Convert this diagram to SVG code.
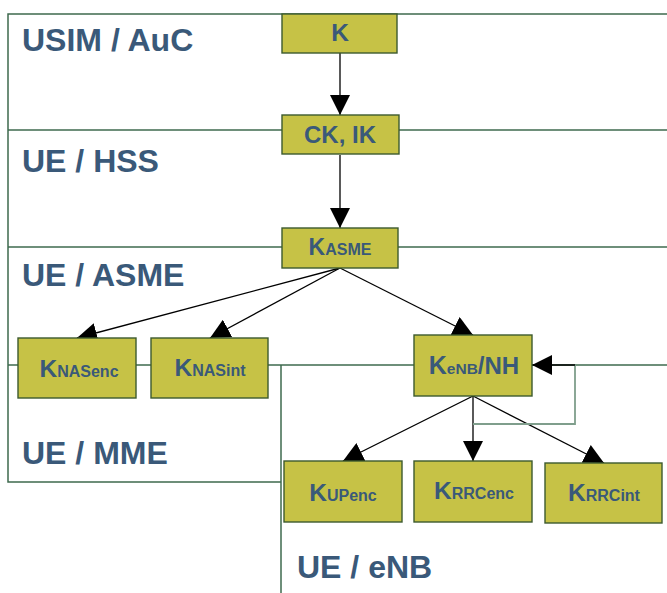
<svg xmlns="http://www.w3.org/2000/svg" width="667" height="593" viewBox="0 0 667 593">
  <defs>
    <marker id="arrow" markerUnits="userSpaceOnUse" markerWidth="20" markerHeight="20" viewBox="0 0 20 20" refX="20" refY="10" orient="auto">
      <path d="M0,0 L20,10 L0,20 Z" fill="#000"/>
    </marker>
    <style>
      .frame { fill: none; stroke: #3E6A4E; stroke-width: 1.5; }
      .region { font-family: "Liberation Sans", Arial, sans-serif; font-weight: bold; font-size: 32px; fill: #3A5979; }
      .box { fill: #C6C246; stroke: #3C5A2E; stroke-width: 1.4; }
      .lbl { font-family: "Liberation Sans", Arial, sans-serif; font-weight: bold; fill: #3A5979; text-anchor: middle; }
      .sub { font-size: 16px; }
      .edge { fill: none; stroke: #000; stroke-width: 1.3; marker-end: url(#arrow); }
      .loop { fill: none; stroke: #7F9E8C; stroke-width: 1.8; }
    </style>
  </defs>

  <!-- region frame lines -->
  <g id="frame">
    <path class="frame" d="M667,14 H8 V482 H281"/>
    <path class="frame" d="M8,130 H667"/>
    <path class="frame" d="M8,247 H667"/>
    <path class="frame" d="M8,365 H667"/>
    <path class="frame" d="M281,365 V593"/>
  </g>

  <g id="regions">
    <text class="region" x="22" y="51">USIM / AuC</text>
    <text class="region" x="22" y="172">UE / HSS</text>
    <text class="region" x="22" y="286">UE / ASME</text>
    <text class="region" x="22" y="464">UE / MME</text>
    <text class="region" x="297" y="578">UE / eNB</text>
  </g>

  <!-- derivation connectors -->
  <g id="connectors">
    <line class="edge" x1="340" y1="53" x2="340" y2="115"/>
    <line class="edge" x1="340" y1="155" x2="340" y2="228"/>
    <line class="edge" x1="340" y1="268" x2="77" y2="338"/>
    <line class="edge" x1="340" y1="268" x2="210" y2="338"/>
    <line class="edge" x1="340" y1="268" x2="473" y2="335"/>
    <line class="edge" x1="473" y1="396" x2="343" y2="461"/>
    <line class="edge" x1="473" y1="396" x2="473" y2="461"/>
    <line class="edge" x1="473" y1="396" x2="604" y2="463"/>
    <path class="loop" d="M473,424 H575 V365"/>
    <line class="edge" x1="575" y1="365" x2="532" y2="365"/>
  </g>

  <g id="K">
    <rect class="box" x="282" y="14" width="115" height="39"/>
    <text class="lbl" x="340" y="41" font-size="24.5">K</text>
  </g>
  <g id="CKIK">
    <rect class="box" x="282" y="115" width="117" height="39"/>
    <text class="lbl" x="340" y="143" font-size="24">CK, IK</text>
  </g>
  <g id="KASME">
    <rect class="box" x="282" y="228" width="116" height="40"/>
    <text class="lbl" x="340" y="255" font-size="23">K<tspan class="sub">ASME</tspan></text>
  </g>
  <g id="KNASenc">
    <rect class="box" x="18" y="338" width="118" height="60"/>
    <text class="lbl" x="79" y="377" font-size="24.5">K<tspan class="sub" font-size="16.3">NASenc</tspan></text>
  </g>
  <g id="KNASint">
    <rect class="box" x="151" y="338" width="117" height="60"/>
    <text class="lbl" x="210" y="376" font-size="24.5">K<tspan class="sub" font-size="16.3">NASint</tspan></text>
  </g>
  <g id="KeNB">
    <rect class="box" x="414" y="335" width="118" height="61"/>
    <text class="lbl" x="474" y="374" font-size="25">K<tspan font-size="15.5">eNB</tspan><tspan font-size="24">/NH</tspan></text>
  </g>
  <g id="KUPenc">
    <rect class="box" x="284" y="461" width="118" height="61"/>
    <text class="lbl" x="343" y="501" font-size="24.5">K<tspan class="sub">UPenc</tspan></text>
  </g>
  <g id="KRRCenc">
    <rect class="box" x="414" y="461" width="118" height="61"/>
    <text class="lbl" x="474" y="499" font-size="24.5">K<tspan class="sub">RRCenc</tspan></text>
  </g>
  <g id="KRRCint">
    <rect class="box" x="545" y="463" width="117" height="60"/>
    <text class="lbl" x="604" y="501" font-size="24.5">K<tspan class="sub">RRCint</tspan></text>
  </g>
</svg>
